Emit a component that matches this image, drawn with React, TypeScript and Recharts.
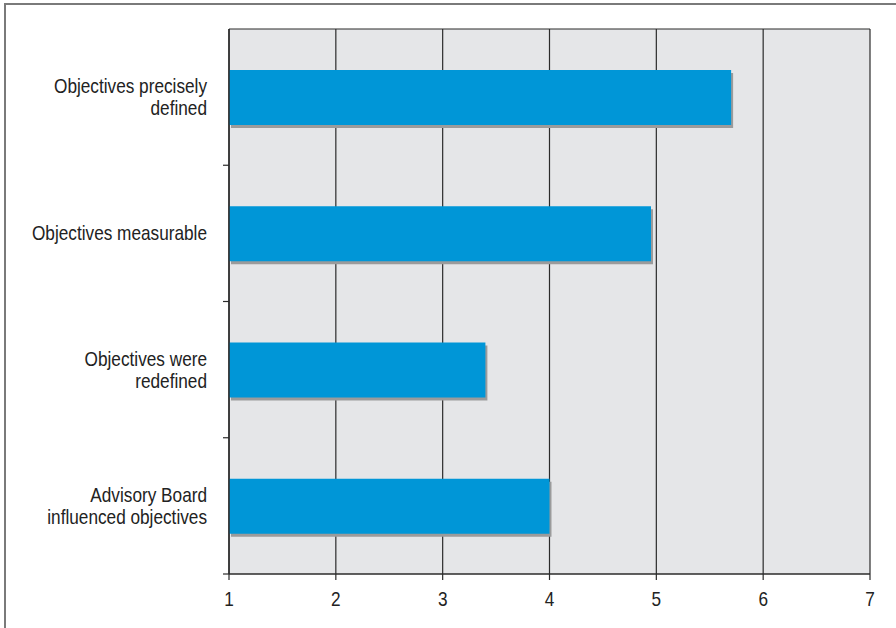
import { Bar, BarChart, CartesianGrid, XAxis, YAxis } from 'recharts';

const categories = [
  'Objectives precisely\ndefined',
  'Objectives measurable',
  'Objectives were\nredefined',
  'Advisory Board\ninfluenced objectives',
];
const scores = [5.7, 4.95, 3.4, 4.0];
const xTicks = [1, 2, 3, 4, 5, 6, 7];

const data = categories.map((name, i) => ({ name, score: scores[i] }));

const WIDTH = 896;
const HEIGHT = 628;
const MARGIN = { top: 29, right: 26, left: 0, bottom: 0 };
const Y_AXIS_W = 229;
const X_AXIS_H = 54;
const BAND = (HEIGHT - MARGIN.top - X_AXIS_H) / categories.length;

// no condensed face is available, so squeeze a regular sans horizontally
const FONT = '"Liberation Sans", Arial, sans-serif';
const FONT_SIZE = 21;
const SQUEEZE = 0.82;
const BLUE = '#0096d7';
const SHADOW = '#9b9b9b';
const LINE = '#2b2b2b';
const TEXT = '#222';

function NarrowText({ x, y, anchor, children }: any) {
  return (
    <text
      transform={`translate(${x},${y}) scale(${SQUEEZE},1)`}
      textAnchor={anchor}
      fontFamily={FONT}
      fontSize={FONT_SIZE}
      fill={TEXT}
    >
      {children}
    </text>
  );
}

function CategoryTick(props: any) {
  const { y, payload } = props;
  const lines = String(payload.value).split('\n');
  const first = lines.length > 1 ? y - 4 : y + 7;
  const right = Y_AXIS_W - 22;
  return (
    <g>
      <line
        x1={Y_AXIS_W - 6}
        x2={Y_AXIS_W}
        y1={y + BAND / 2}
        y2={y + BAND / 2}
        stroke={LINE}
        strokeWidth={1.2}
      />
      {lines.map((l, i) => (
        <NarrowText key={i} x={right} y={first + i * 22} anchor="end">
          {l}
        </NarrowText>
      ))}
    </g>
  );
}

function ValueTick(props: any) {
  const { x, payload } = props;
  return (
    <NarrowText x={x} y={606} anchor="middle">
      {payload.value}
    </NarrowText>
  );
}

function ShadowBar(props: any) {
  const { x, y, width, height } = props;
  if (!width || width <= 0) return null;
  return (
    <g>
      <rect x={x + 2} y={y + 3} width={width} height={height} fill={SHADOW} />
      <rect x={x} y={y} width={width} height={height} fill={BLUE} />
    </g>
  );
}

export default function App() {
  return (
    <div style={{ position: 'absolute', left: 0, top: 0, width: WIDTH, height: HEIGHT, background: '#fff' }}>
      <div
        style={{
          position: 'absolute',
          left: 4,
          top: 3,
          width: WIDTH,
          height: HEIGHT,
          borderLeft: '2px solid #7a7a7a',
          borderTop: '2px solid #7a7a7a',
        }}
      />
      <BarChart
        width={WIDTH}
        height={HEIGHT}
        data={data}
        layout="vertical"
        margin={MARGIN}
        barSize={55}
        style={{ position: 'absolute', left: 0, top: 0 }}
      >
        <CartesianGrid
          fill="#e5e6e8"
          stroke={LINE}
          strokeWidth={1.2}
          horizontalPoints={[MARGIN.top]}
        />
        <XAxis
          type="number"
          domain={[1, 7]}
          ticks={xTicks}
          height={X_AXIS_H}
          axisLine={{ stroke: LINE, strokeWidth: 1.5 }}
          tickLine={{ stroke: LINE, strokeWidth: 1.2 }}
          tickSize={6}
          tick={ValueTick}
        />
        <YAxis
          type="category"
          dataKey="name"
          width={Y_AXIS_W}
          axisLine={{ stroke: LINE, strokeWidth: 1.5 }}
          tickLine={false}
          tick={CategoryTick}
        />
        <Bar dataKey="score" shape={ShadowBar} isAnimationActive={false} />
      </BarChart>
    </div>
  );
}
